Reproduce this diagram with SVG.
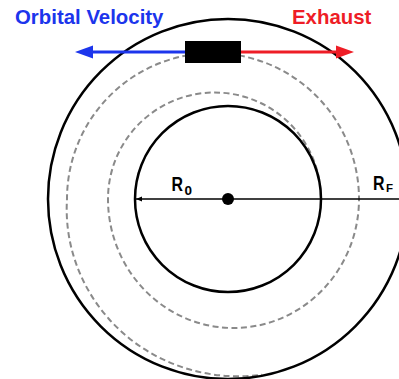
<svg xmlns="http://www.w3.org/2000/svg" width="399" height="379" viewBox="0 0 399 379">
  <style>
    .orbit { fill: none; stroke: #000; stroke-width: 2.5; }
    .spiral { fill: none; stroke: #8a8a8a; stroke-width: 2; stroke-dasharray: 6 3.5; }
    .title { font-family: "Liberation Sans", Arial, sans-serif; font-weight: bold; font-size: 20.4px; }
    .lbl { font-family: "Liberation Sans", Arial, sans-serif; font-weight: bold; fill: #000; }
  </style>
  <defs>
    <marker id="ahBlue" markerUnits="userSpaceOnUse" markerWidth="18" markerHeight="14" refX="8" refY="7" orient="auto">
      <path d="M0,0.5 L18,7 L0,13.5 z" fill="#1c35ec"/>
    </marker>
    <marker id="ahRed" markerUnits="userSpaceOnUse" markerWidth="18" markerHeight="14" refX="8" refY="7" orient="auto">
      <path d="M0,0.5 L18,7 L0,13.5 z" fill="#ee1d26"/>
    </marker>
    <marker id="ahBlack" markerUnits="userSpaceOnUse" markerWidth="7" markerHeight="6" refX="6" refY="3" orient="auto">
      <path d="M0,0.5 L6,3 L0,5.5 z" fill="#000"/>
    </marker>
  </defs>
  <rect width="399" height="379" fill="#fff"/>

  <g id="spiral">
    <path class="spiral" d="M321,199 A106.5,106.5 0 0 0 108,199 A125.5,129 0 0 0 359,199 A146,146 0 0 0 67,199 A164,164 0 0 0 69.9,241.4 A166,166 0 0 0 84,282.2 A168,168 0 0 0 108.5,318.5 A171,171 0 0 0 142.1,347.7 A174,174 0 0 0 182.9,367.4 A176,176 0 0 0 228,376 A178,178 0 0 0 262.2,374.7"/>
  </g>

  <g id="orbit-final">
    <circle class="orbit" cx="228" cy="199" r="180"/>
  </g>
  <g id="orbit-initial">
    <circle class="orbit" cx="228" cy="199" r="93"/>
  </g>

  <g id="connectors">
    <line x1="399" y1="199" x2="136" y2="199" stroke="#000" stroke-width="1.5" marker-end="url(#ahBlack)"/>
    <line x1="186" y1="52" x2="85" y2="52" stroke="#1c35ec" stroke-width="3" marker-end="url(#ahBlue)"/>
    <line x1="240" y1="52" x2="344" y2="52" stroke="#ee1d26" stroke-width="3" marker-end="url(#ahRed)"/>
  </g>

  <g id="center">
    <circle cx="228" cy="199" r="6" fill="#000"/>
  </g>

  <g id="spacecraft">
    <rect x="185" y="41" width="56" height="22" fill="#000"/>
  </g>

  <g id="labels">
    <text class="title" x="15" y="24" fill="#1c35ec">Orbital Velocity</text>
    <text class="title" x="292" y="24" fill="#ee1d26">Exhaust</text>
    <text class="lbl" x="171.5" y="190.5" font-size="19.5" textLength="11.5" lengthAdjust="spacingAndGlyphs">R</text>
    <text class="lbl" x="184.5" y="195" font-size="13.5">0</text>
    <text class="lbl" x="373" y="190" font-size="19.5" textLength="11.5" lengthAdjust="spacingAndGlyphs">R</text>
    <text class="lbl" x="386" y="192" font-size="11.5">F</text>
  </g>
</svg>
